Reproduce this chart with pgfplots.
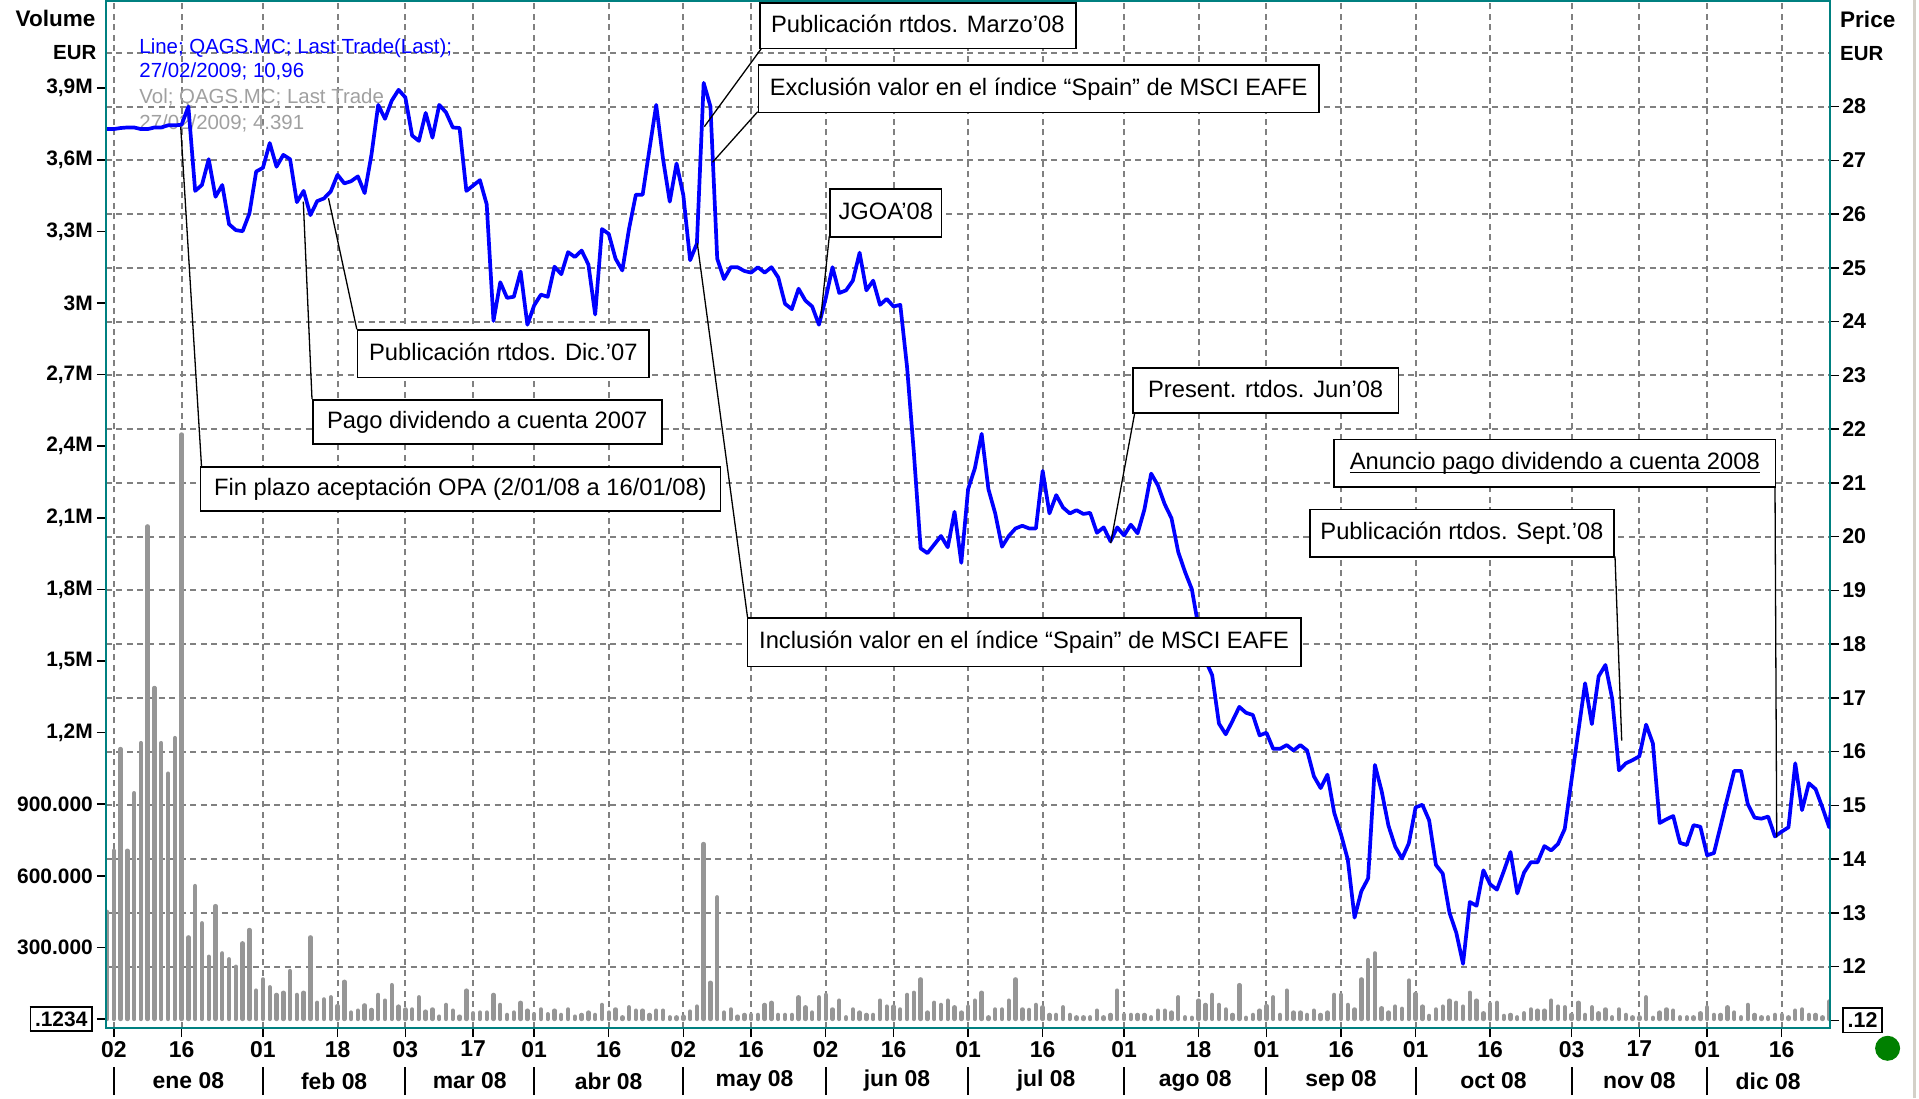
\documentclass[border=0pt]{standalone}
\usepackage{pgfplots}
\usepackage{pgfplotstable}
\pgfplotsset{compat=1.18}
\usepackage{fontspec}
\setmainfont{Liberation Sans}
\definecolor{frameteal}{RGB}{0,128,128}
\definecolor{gridgray}{RGB}{128,128,128}
\definecolor{volgray}{RGB}{150,150,150}
\definecolor{priceblue}{RGB}{0,0,255}
\definecolor{lgray}{RGB}{160,160,160}
\definecolor{dotgreen}{RGB}{0,128,0}
\definecolor{winborder}{RGB}{212,208,200}
\newcommand{\bx}[1]{{\setlength{\fboxsep}{4bp}\setlength{\fboxrule}{1.4bp}\fbox{#1}}}
\newcommand{\myul}[1]{\setbox0\hbox{#1}\rlap{\rule[-3.5bp]{\wd0}{1.4bp}}\box0}

\pgfplotstableread{
idx price
-1 27.58
0 27.58
1 27.60
2 27.61
3 27.61
4 27.58
5 27.58
6 27.61
7 27.61
8 27.65
9 27.65
10 27.66
11 28.00
12 26.43
13 26.54
14 27.02
15 26.32
16 26.54
17 25.81
18 25.70
19 25.68
20 26.01
21 26.79
22 26.86
23 27.32
24 26.88
25 27.10
26 27.02
27 26.22
28 26.43
29 25.98
30 26.24
31 26.29
32 26.42
33 26.73
34 26.57
35 26.61
36 26.70
37 26.39
38 27.10
39 28.03
40 27.77
41 28.11
42 28.31
43 28.17
44 27.46
45 27.36
46 27.88
47 27.42
48 28.03
49 27.89
50 27.61
51 27.60
52 26.43
53 26.53
54 26.63
55 26.18
56 24.01
57 24.73
58 24.44
59 24.46
60 24.93
61 23.94
62 24.30
63 24.50
64 24.46
65 25.02
66 24.88
67 25.29
68 25.20
69 25.32
70 25.06
71 24.13
72 25.72
73 25.63
74 25.17
75 24.95
76 25.73
77 26.36
78 26.36
79 27.20
80 28.03
81 27.03
82 26.23
83 26.94
84 26.35
85 25.14
86 25.45
87 28.44
88 28.00
89 25.17
90 24.79
91 25.01
92 25.01
93 24.94
94 24.91
95 25.01
96 24.91
97 25.01
98 24.82
99 24.33
100 24.23
101 24.61
102 24.39
103 24.28
104 23.94
105 24.43
106 25.01
107 24.53
108 24.58
109 24.76
110 25.28
111 24.58
112 24.76
113 24.31
114 24.42
115 24.28
116 24.31
117 23.15
118 21.56
119 19.78
120 19.69
121 19.85
122 20.01
123 19.80
124 20.46
125 19.51
126 20.88
127 21.27
128 21.91
129 20.88
130 20.43
131 19.81
132 20.01
133 20.15
134 20.20
135 20.15
136 20.15
137 21.22
138 20.43
139 20.77
140 20.54
141 20.43
142 20.49
143 20.42
144 20.44
145 20.07
146 20.17
147 19.91
148 20.17
149 20.02
150 20.22
151 20.06
152 20.50
153 21.17
154 20.95
155 20.60
156 20.34
157 19.71
158 19.34
159 19.02
160 18.30
161 17.70
162 17.42
163 16.52
164 16.32
165 16.57
166 16.83
167 16.72
168 16.68
169 16.30
170 16.35
171 16.05
172 16.05
173 16.12
174 16.02
175 16.12
176 16.02
177 15.54
178 15.32
179 15.57
180 14.86
181 14.46
182 13.99
183 12.91
184 13.40
185 13.64
186 15.75
187 15.26
188 14.62
189 14.23
190 14.01
191 14.29
192 14.96
193 15.01
194 14.72
195 13.89
196 13.73
197 13.00
198 12.63
199 12.05
200 13.20
201 13.13
202 13.79
203 13.53
204 13.43
205 13.77
206 14.13
207 13.36
208 13.75
209 13.94
210 13.94
211 14.24
212 14.16
213 14.28
214 14.56
215 15.47
216 16.37
217 17.27
218 16.51
219 17.40
220 17.61
221 16.98
222 15.65
223 15.78
224 15.84
225 15.91
226 16.50
227 16.15
228 14.67
229 14.74
230 14.80
231 14.30
232 14.26
233 14.63
234 14.60
235 14.07
236 14.11
237 14.62
238 15.14
239 15.64
240 15.64
241 15.02
242 14.77
243 14.75
244 14.79
245 14.42
246 14.51
247 14.59
248 15.78
249 14.91
250 15.41
251 15.30
252 14.96
253 14.59
254 15.90
}\pricetable

\pgfplotstableread{
idx vol
-1 449
0 705
1 1131
2 705
3 946
4 1156
5 2064
6 1387
7 1156
8 1028
9 1177
10 2449
11 342
12 557
13 401
14 261
15 473
16 275
17 250
18 219
19 317
20 373
21 119
22 166
23 133
24 101
25 110
26 201
27 101
28 110
29 342
30 68
31 82
32 91
33 54
34 156
35 27
36 35
37 57
38 38
39 101
40 77
41 142
42 52
43 40
44 40
45 91
46 31
47 40
48 10
49 59
50 35
51 10
52 119
53 24
54 27
55 27
56 101
57 59
58 17
59 27
60 68
61 35
62 20
63 40
64 20
65 35
66 17
67 40
68 10
69 17
70 27
71 17
72 59
73 27
74 40
75 7
76 49
77 35
78 35
79 17
80 35
81 35
82 7
83 7
84 10
85 31
86 52
87 733
88 152
89 510
90 27
91 40
92 10
93 17
94 17
95 17
96 59
97 68
98 17
99 17
100 17
101 91
102 49
103 27
104 91
105 101
106 40
107 77
108 7
109 40
110 27
111 17
112 17
113 77
114 52
115 52
116 40
117 101
118 110
119 166
120 27
121 68
122 59
123 77
124 49
125 27
126 52
127 77
128 110
129 7
130 40
131 40
132 77
133 166
134 40
135 38
136 59
137 49
138 17
139 17
140 49
141 17
142 7
143 7
144 7
145 35
146 7
147 17
148 119
149 17
150 17
151 17
152 17
153 7
154 35
155 35
156 27
157 91
158 7
159 5
160 77
161 59
162 101
163 59
164 40
165 17
166 142
167 5
168 17
169 35
170 54
171 91
172 17
173 119
174 27
175 27
176 17
177 35
178 17
179 27
180 101
181 101
182 59
183 40
184 166
185 247
186 275
187 45
188 27
189 52
190 43
191 161
192 105
193 52
194 13
195 40
196 52
197 77
198 68
199 52
200 110
201 77
202 24
203 63
204 68
205 13
206 17
207 7
208 24
209 40
210 35
211 35
212 77
213 52
214 49
215 17
216 68
217 17
218 49
219 24
220 40
221 7
222 40
223 17
224 7
225 7
226 91
227 5
228 27
229 40
230 35
231 7
232 7
233 7
234 24
235 49
236 17
237 17
238 49
239 27
240 7
241 59
242 17
243 7
244 7
245 17
246 17
247 7
248 35
249 40
250 17
251 17
252 7
253 73
}\voltable

\begin{document}
\begin{tikzpicture}[x=1bp,y=1bp]
\pgfplotsset{
  common/.style={
    anchor=south west, scale only axis,
    width=1724bp, height=1027bp,
    xmin=-1.15, xmax=253.13,
    tick align=outside, major tick length=9bp,
    tick style={black, line width=1.5bp},
  },
}
% ---------- price axis: grid and ticks ----------
\begin{axis}[common, name=p1, at={(0,0)},
  ymin=10.856, ymax=29.963,
  axis line style={draw=none},
  xtick={0,10,22,33,43,53,62,73,84,94,105,115,126,137,149,160,170,181,192,203,215,225,235,246},
  xticklabels={02,16,01,18,03,17,01,16,02,16,02,16,01,16,01,18,01,16,01,16,03,17,01,16},
  ytick={12,13,14,15,16,17,18,19,20,21,22,23,24,25,26,27,28},
  yticklabels={12,13,14,15,16,17,18,19,20,21,22,23,24,25,26,27,28},
  extra y ticks={11}, extra y tick labels={\bx{.12}},
  extra y tick style={xmajorgrids=false, ymajorgrids=false},
  xtick pos=left, ytick pos=right, yticklabel pos=right,
  xmajorgrids, ymajorgrids,
  grid style={gridgray, line width=2bp, dash pattern=on 6bp off 4.5bp},
  yticklabel style={font=\fontsize{21.5}{24}\selectfont\bfseries, inner sep=0pt, xshift=3bp},
  xticklabel style={font=\fontsize{23}{26}\selectfont\bfseries, inner sep=0pt, yshift=-4bp},
]
\draw[gridgray, line width=2bp, dash pattern=on 6bp off 4.5bp] (-1.15,29) -- (253.13,29);
\end{axis}
% ---------- volume axis ----------
\begin{axis}[common, at={(p1.south west)},
  ymin=-37.7, ymax=4265.3,
  axis line style={draw=none},
  xtick=\empty,
  ytick={0,300,600,900,1200,1500,1800,2100,2400,2700,3000,3300,3600,3900},
  yticklabels={\bx{.1234},300.000,600.000,900.000,{1,2M},{1,5M},{1,8M},{2,1M},{2,4M},{2,7M},3M,{3,3M},{3,6M},{3,9M}},
  ytick pos=left,
  yticklabel style={font=\fontsize{21}{24}\selectfont\bfseries, inner sep=0pt, xshift=-4bp},
]
\addplot[ycomb, volgray, line width=4.4bp, line cap=round] table[x=idx,y=vol] {\voltable};
\end{axis}
% ---------- legend text ----------
\begin{scope}[shift={(p1.south west)}]
\begin{scope}[shift={(-106,-70)}, every node/.style={anchor=base west, inner sep=0pt, font=\fontsize{20.5}{24}\selectfont}]
\node[text=priceblue] at (139.3,1044.7) {Line; QAGS.MC; Last Trade(Last);};
\node[text=priceblue] at (139.3,1020.3) {27/02/2009; 10,96};
\node[text=lgray] at (139.3,994) {Vol; QAGS.MC; Last Trade};
\node[text=lgray] at (139.3,968.7) {27/02/2009; 4.391};
\end{scope}
\end{scope}
% ---------- price line + frame ----------
\begin{axis}[common, at={(p1.south west)},
  ymin=10.856, ymax=29.963,
  axis line style={frameteal, line width=2.2bp},
  xtick=\empty, ytick=\empty,
]
\addplot[priceblue, line width=3.7bp, line join=round] table[x=idx,y=price] {\pricetable};
\end{axis}
\begin{scope}[shift={(p1.south west)}]
\begin{scope}[shift={(-106,-70)}]
% ---------- axis titles ----------
\node[anchor=base east, inner sep=0pt, font=\fontsize{22.6}{26}\selectfont\bfseries] at (95.5,1071.3) {Volume};
\node[anchor=base east, inner sep=0pt, font=\fontsize{20.5}{24}\selectfont\bfseries] at (96.5,1038.7) {EUR};
\node[anchor=base west, inner sep=0pt, font=\fontsize{22.6}{26}\selectfont\bfseries] at (1840,1070) {Price};
\node[anchor=base west, inner sep=0pt, font=\fontsize{20.5}{24}\selectfont\bfseries] at (1840,1037) {EUR};
% ---------- month labels and separators ----------
\foreach \i in {0,22,43,62,84,105,126,149,170,192,215,235}
  \draw[black, line width=2bp] ({113.8+6.78*\i},3) -- ({113.8+6.78*\i},31);
\begin{scope}[every node/.style={inner sep=0pt, font=\fontsize{23}{26}\selectfont\bfseries}]
\node at ({113.8+6.78*11},17) {ene 08};
\node at ({113.8+6.78*32.5},17) {feb 08};
\node at ({113.8+6.78*52.5},17) {mar 08};
\node at ({113.8+6.78*73},17) {abr 08};
\node at ({113.8+6.78*94.5},17) {may 08};
\node at ({113.8+6.78*115.5},17) {jun 08};
\node at ({113.8+6.78*137.5},17) {jul 08};
\node at ({113.8+6.78*159.5},17) {ago 08};
\node at ({113.8+6.78*181},17) {sep 08};
\node at ({113.8+6.78*203.5},17) {oct 08};
\node at ({113.8+6.78*225},17) {nov 08};
\node at ({113.8+6.78*244},17) {dic 08};
\end{scope}
% ---------- annotations ----------
\begin{scope}[black, line width=1.3bp]
\draw (762,1050.3) -- (704.3,971.3);
\draw (757.7,986.3) -- (712.5,935.7);
\draw (829.3,862) -- (820.7,779.7);
\draw (356.8,768.7) -- (328.5,899.7);
\draw (312,699) -- (303.3,896.3);
\draw (201.5,631.7) -- (180.7,971.3);
\draw (747.5,480.9) -- (697.3,854.7);
\draw (1134.8,685.5) -- (1110.7,554.8);
\draw (1775,612) -- (1776.7,260.7);
\draw (1615,541.6) -- (1621.7,357.3);
\end{scope}
\tikzset{ann/.style args={#1/#2}{draw=black, line width=1.6bp, fill=white,
  font=\fontsize{23.8}{28}\selectfont, inner xsep=0pt, inner ysep=0pt,
  anchor=north west, minimum width=#1, minimum height=#2,
  text height=17bp, text depth=4bp}}
\node[ann=316bp/45.3bp] at (759,1095.6) {Publicación rtdos. Marzo'08};
\node[ann=560.3bp/47.7bp] at (757.7,1034) {Exclusión valor en el índice “Spain” de MSCI EAFE};
\node[ann=111.4bp/47.7bp] at (829.3,909.7) {JGOA'08};
\node[ann=291.5bp/47.4bp] at (356.8,768.7) {Publicación rtdos. Dic.'07};
\node[ann=349bp/44bp] at (312,699) {Pago dividendo a cuenta 2007};
\node[ann=520.2bp/44.1bp] at (199.5,631.7) {Fin plazo aceptación OPA (2/01/08 a 16/01/08)};
\node[ann=553.4bp/48.6bp] at (746.6,480.9) {Inclusión valor en el índice “Spain” de MSCI EAFE};
\node[ann=265.7bp/45.5bp] at (1132,731) {Present. rtdos. Jun'08};
\node[ann=441.4bp/47.4bp] at (1333.3,659.4) {\myul{Anuncio pago dividendo a cuenta 2008}};
\node[ann=303.7bp/47.8bp] at (1309.3,589.4) {Publicación rtdos. Sept.'08};
% ---------- decorations ----------
\fill[dotgreen] (1887.6,49.7) circle (12.5);
\draw[winborder, line width=2.5bp] (1914.5,0) -- (1914.5,1098);
\pgfresetboundingbox
\path[use as bounding box] (0,0) rectangle (1919,1098);
\end{scope}
\end{scope}
\end{tikzpicture}
\end{document}
